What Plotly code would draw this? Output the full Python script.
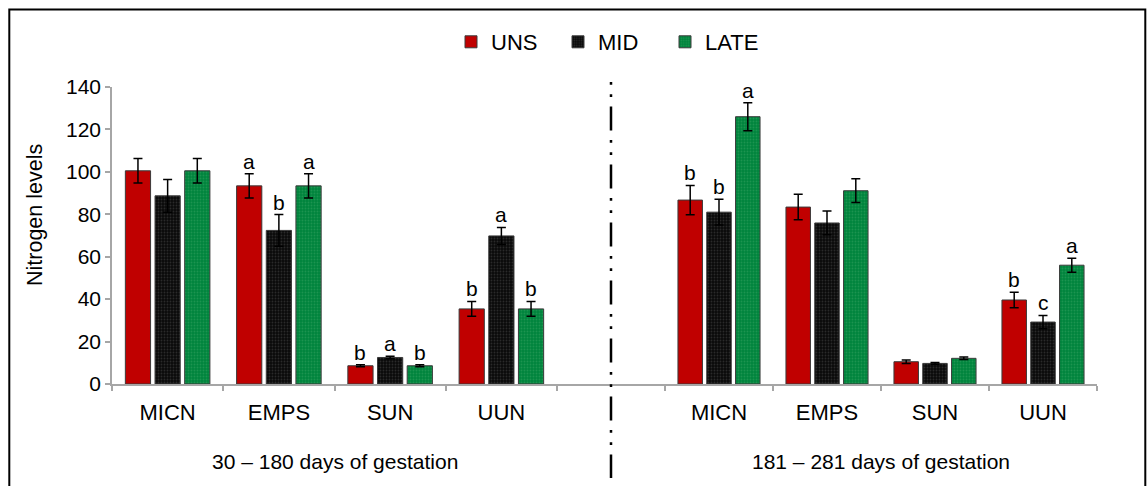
import plotly.graph_objects as go

# ---------------- data ----------------
categories = ["MICN", "EMPS", "SUN", "UUN"]
series_names = ["UNS", "MID", "LATE"]

early_uns = [100.5, 93.4, 8.6, 35.4]
early_mid = [88.7, 72.4, 12.5, 69.8]
early_late = [100.5, 93.4, 8.6, 35.4]
early_uns_err = [5.8, 5.7, 0.5, 3.5]
early_mid_err = [7.7, 7.5, 0.6, 4.0]
early_late_err = [5.8, 5.7, 0.5, 3.5]

late_uns = [86.7, 83.4, 10.5, 39.6]
late_mid = [81.0, 75.9, 9.7, 29.2]
late_late = [126.0, 91.1, 12.1, 56.0]
late_uns_err = [6.9, 6.0, 0.8, 3.6]
late_mid_err = [6.1, 5.6, 0.4, 3.1]
late_late_err = [6.6, 5.6, 0.6, 3.3]

early_uns_letters = ["", "a", "b", "b"]
early_mid_letters = ["", "b", "a", "a"]
early_late_letters = ["", "a", "b", "b"]
late_uns_letters = ["b", "", "", "b"]
late_mid_letters = ["b", "", "", "c"]
late_late_letters = ["a", "", "", "a"]

period_labels = ["30 \u2013 180 days of gestation", "181 \u2013 281 days of gestation"]
y_title = "Nitrogen levels"
y_ticks = [0, 20, 40, 60, 80, 100, 120, 140]

# ---------------- style ----------------
W, H = 1147, 486
ML, MR, MT, MB = 112, 50, 87, 102
PW, PH = W - ML - MR, H - MT - MB
FONT = "Liberation Sans, Arial, sans-serif"
FS = 21
AXIS_GREY = "#a6a6a6"
BARGAP = 0.2
colors = ["#C00000", "#0a0a0a", "#00843D"]
pattern_fg = [None, "#2a2a2a", "#1c9450"]

left_w = 445  # px width of left axis (4 categories)
split = left_w / PW

def px_x(px):
    return (px - ML) / PW

def px_y(py):
    return (H - MB - py) / PH

fig = go.Figure()

groups = [
    ("x", "y", [early_uns, early_mid, early_late],
     [early_uns_err, early_mid_err, early_late_err],
     [early_uns_letters, early_mid_letters, early_late_letters], True, left_w / 4),
    ("x2", "y", [late_uns, late_mid, late_late],
     [late_uns_err, late_mid_err, late_late_err],
     [late_uns_letters, late_mid_letters, late_late_letters], False, (PW - left_w) / 5),
]

annotations = []
for xa, ya, vals, errs, letters, show, cat_px in groups:
    slot = cat_px * (1 - BARGAP) / 3
    for j in range(3):
        marker = dict(color=colors[j], line=dict(color="#3a3a3a", width=1))
        if pattern_fg[j]:
            marker["pattern"] = dict(shape=".", fgcolor=pattern_fg[j], bgcolor=colors[j],
                                     size=3, solidity=0.3, fillmode="replace")
        fig.add_trace(go.Bar(
            x=categories, y=vals[j], name=series_names[j], xaxis=xa, yaxis=ya,
            marker=marker, showlegend=show, legendgroup=series_names[j],
            error_y=dict(type="data", array=errs[j], color="#000000", thickness=1.5, width=4.5),
        ))
        for k, c in enumerate(categories):
            if letters[j][k]:
                annotations.append(dict(
                    x=c, y=vals[j][k] + errs[j][k], xref=xa, yref=ya,
                    text=letters[j][k], showarrow=False, yanchor="bottom",
                    xshift=(j - 1) * slot, yshift=-1,
                    font=dict(family=FONT, size=FS, color="#000000")))

# period labels
annotations.append(dict(x=1.5, y=px_y(461.5), xref="x", yref="paper", text=period_labels[0],
                        xanchor="center", yanchor="middle", showarrow=False,
                        font=dict(family=FONT, size=FS, color="#000000")))
annotations.append(dict(x=2.5, y=px_y(461.5), xref="x2", yref="paper", text=period_labels[1],
                        xanchor="center", yanchor="middle", showarrow=False,
                        font=dict(family=FONT, size=FS, color="#000000")))
# y title
annotations.append(dict(x=px_x(35), y=px_y(215), xref="paper", yref="paper", text=y_title,
                        textangle=-90, xanchor="center", yanchor="middle", showarrow=False,
                        font=dict(family=FONT, size=21.5, color="#000000")))

shapes = [
    # outer frame
    dict(type="rect", xref="paper", yref="paper", x0=px_x(9.3), x1=px_x(1145.3),
         y0=px_y(495), y1=px_y(9.5), line=dict(color="#000000", width=2)),
    # dash-dot separator in the blank slot
    dict(type="line", xref="x2", yref="paper", x0=0, x1=0, y0=px_y(82), y1=px_y(478),
         line=dict(color="#000000", width=2.5, dash="2.7px,9.5px,2.7px,9.5px,24px,9.6px")),
]

xcommon = dict(type="category", showline=True, linecolor=AXIS_GREY, linewidth=1.5,
               ticks="outside", ticklen=5, tickcolor=AXIS_GREY, tickwidth=1.5,
               tickson="boundaries", showgrid=False, zeroline=False, ticklabelstandoff=8,
               tickfont=dict(family=FONT, size=22, color="#000000"), anchor="y")

fig.update_layout(
    width=W, height=H,
    margin=dict(l=ML, r=MR, t=MT, b=MB, pad=0),
    paper_bgcolor="white", plot_bgcolor="white",
    barmode="group", bargap=BARGAP, bargroupgap=0.15,
    font=dict(family=FONT, size=FS, color="#000000"),
    xaxis=dict(domain=[0, split], categoryorder="array", categoryarray=categories,
               range=[-0.5, 3.5], **xcommon),
    xaxis2=dict(domain=[split, 1], categoryorder="array", categoryarray=[" "] + categories,
                range=[-0.5, 4.5], **xcommon),
    yaxis=dict(range=[0, 140], tickvals=y_ticks, showline=True, linecolor=AXIS_GREY,
               linewidth=1.5, ticks="outside", ticklen=5, tickcolor=AXIS_GREY, tickwidth=1.5,
               showgrid=False, zeroline=False,
               tickfont=dict(family=FONT, size=FS, color="#000000")),
    legend=dict(orientation="h", x=px_x(451), xanchor="left", y=px_y(42), yanchor="middle",
                font=dict(family=FONT, size=22, color="#000000"), bgcolor="rgba(0,0,0,0)",
                traceorder="normal", entrywidth=62, entrywidthmode="pixels"),
    annotations=annotations,
    shapes=shapes,
)

fig.write_html("out.html")
